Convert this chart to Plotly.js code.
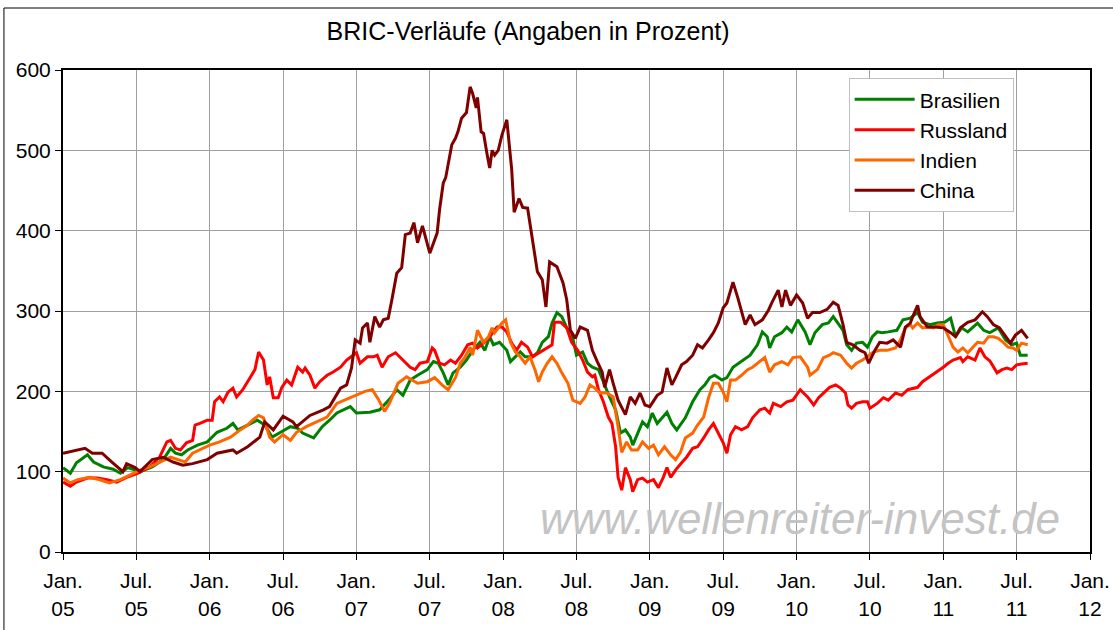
<!DOCTYPE html>
<html>
<head>
<meta charset="utf-8">
<script src="https://cdn.plot.ly/plotly-3.0.1.min.js"></script>
<style>
  html, body { margin: 0; padding: 0; background: #fff; }
  #chart { width: 1113px; height: 630px; }
</style>
</head>
<body>
<div id="chart"></div>
<script>
// x values: months since January 2005
const tickMonths = [0, 6, 12, 18, 24, 30, 36, 42, 48, 54, 60, 66, 72, 78, 84];
const tickLabels = ["Jan.<br>05", "Jul.<br>05", "Jan.<br>06", "Jul.<br>06", "Jan.<br>07", "Jul.<br>07", "Jan.<br>08", "Jul.<br>08", "Jan.<br>09", "Jul.<br>09", "Jan.<br>10", "Jul.<br>10", "Jan.<br>11", "Jul.<br>11", "Jan.<br>12"];

const seriesNames = ["Brasilien", "Russland", "Indien", "China"];
const seriesColors = ["#008000", "#FF0000", "#FF6600", "#800000"];

const brasilienX = [0,0.6,1.1,2.0,2.5,3.3,4.1,4.7,5.3,6.3,7.3,8.2,8.8,9.2,9.7,10.2,11.0,11.8,12.6,13.4,13.9,14.3,15.1,15.9,16.5,17.1,17.8,18.6,19.2,19.6,20.5,21.2,21.8,22.4,23.5,24.0,25.1,25.9,26.7,27.3,27.8,28.4,29.0,29.8,30.3,30.7,31.1,31.5,31.9,32.5,33.0,33.5,34.1,34.5,34.9,35.2,35.7,36.3,36.6,37.0,37.4,37.8,38.4,38.8,39.2,39.7,40.0,40.4,40.8,41.2,41.6,42.0,42.5,42.9,43.3,43.8,44.2,44.7,45.2,45.6,46.0,46.4,46.6,47.0,47.4,47.8,48.2,48.6,49.0,49.4,49.8,50.2,50.9,51.5,52.1,52.5,52.9,53.3,53.9,54.3,54.8,55.5,56.2,56.8,57.2,57.6,57.8,58.2,58.8,59.2,59.6,60.1,60.7,61.1,61.5,62.1,62.6,63.0,63.4,63.8,64.1,64.5,64.9,65.4,65.8,66.2,66.6,67.0,67.5,68.2,68.7,69.3,69.9,70.3,70.9,71.5,72.1,72.6,73.0,73.5,74.0,74.8,75.3,75.8,76.5,77.1,77.6,78.0,78.3,78.9];
const brasilienY = [105,98,111,121,112,106,103,98,105,100,106,115,129,123,121,127,133,137,149,154,160,152,158,164,158,143,149,156,154,148,142,156,164,173,181,173,174,177,190,202,195,214,220,227,237,235,223,208,223,230,239,251,261,251,268,258,261,251,237,243,249,243,243,248,261,268,285,298,293,279,273,245,249,235,230,227,212,193,177,148,152,143,133,148,162,156,173,160,167,174,160,152,167,187,202,208,217,220,214,217,230,237,245,258,274,268,254,268,273,280,274,289,274,258,273,283,285,293,285,276,258,251,260,261,255,268,274,273,274,276,289,291,298,286,283,285,286,291,268,279,274,285,276,273,279,264,258,260,245,245];

const russlandX = [0,0.6,1.1,2.0,2.8,3.6,4.4,5.2,6.1,7.1,7.9,8.5,8.8,9.2,9.6,10.1,10.6,10.8,11.2,11.8,12.2,12.4,12.8,13.1,13.5,13.9,14.2,14.7,15.3,15.7,16.0,16.4,16.7,16.9,17.2,17.6,17.9,18.3,18.7,19.0,19.2,19.6,19.8,20.2,20.6,21.0,21.6,22.1,22.7,23.2,23.6,24.0,24.3,24.9,25.4,25.7,26.1,26.6,27.2,27.6,28.0,28.4,28.8,29.2,29.8,30.2,30.4,30.8,31.2,31.7,32.1,32.6,33.1,33.5,33.9,34.4,34.9,35.5,35.9,36.3,36.7,37.1,37.5,38.0,38.4,39.0,39.6,40.0,40.2,40.7,41.2,41.6,42.1,42.5,42.9,43.3,43.5,43.8,44.2,44.6,44.9,45.2,45.4,45.7,46.0,46.4,46.6,47.0,47.4,47.8,48.3,48.7,49.1,49.4,49.7,50.1,50.6,51.0,51.5,51.9,52.4,52.8,53.2,53.6,54.0,54.3,54.6,55.0,55.5,56.0,56.4,57.0,57.4,57.8,58.1,58.7,59.2,59.7,60.3,60.9,61.4,61.8,62.2,62.7,63.2,63.6,64.0,64.2,64.5,64.9,65.4,65.8,66.0,66.6,67.1,67.5,68.1,68.6,69.1,69.9,70.3,70.9,71.5,72.0,72.4,72.8,73.4,73.6,74.0,74.6,75.0,75.4,75.8,76.4,76.8,77.2,77.6,78.0,78.4,78.9];
const russlandY = [87,82,87,92,92,90,87,93,98,106,118,137,139,129,127,136,139,158,160,164,164,187,193,187,199,204,193,202,217,227,249,239,208,218,192,192,205,214,208,220,230,224,229,220,204,212,220,224,230,239,243,248,235,243,243,245,230,243,248,242,235,230,227,235,237,254,251,235,233,239,235,245,258,260,254,260,268,280,280,274,260,251,261,255,243,249,254,258,286,286,279,261,251,239,224,218,220,202,187,168,160,131,93,77,105,90,75,90,92,87,90,80,93,105,93,102,111,118,129,131,142,152,160,148,136,123,146,156,152,156,167,177,179,173,185,181,187,189,202,193,183,192,198,205,208,204,198,183,179,185,187,187,179,185,192,189,198,195,202,205,212,218,224,230,235,239,242,237,243,239,254,243,238,223,227,229,227,233,234,235];

const indienX = [0,0.6,1.2,2.2,3.0,3.8,4.7,5.5,6.3,7.1,7.9,8.8,9.4,10.0,10.6,11.2,12.0,12.8,13.7,14.5,15.1,15.5,16.0,16.4,16.9,17.3,18.0,18.6,19.1,19.9,20.8,21.6,22.4,23.2,24.0,24.7,25.3,25.8,26.3,26.7,27.4,28.1,29.0,29.8,30.4,31.0,31.5,32.1,32.5,32.9,33.3,33.5,33.9,34.4,34.8,35.1,35.3,35.6,35.9,36.2,36.6,37.0,37.4,37.8,38.2,38.6,38.9,39.2,39.6,40.0,40.4,40.8,41.3,41.7,42.3,42.7,43.1,43.5,43.9,44.5,45.0,45.4,45.7,46.1,46.5,47.0,47.4,47.9,48.3,48.7,49.2,49.7,50.1,50.5,50.9,51.5,51.9,52.4,52.8,53.2,53.6,54.0,54.3,54.6,55.0,55.5,56.0,56.4,57.0,57.4,57.8,58.2,58.8,59.3,59.7,60.3,60.9,61.1,61.7,62.2,62.7,63.0,63.6,64.1,64.5,64.9,65.4,65.8,66.3,66.8,67.4,68.1,68.5,68.9,69.3,69.5,69.9,70.3,70.8,71.2,71.6,72.0,72.4,72.8,73.2,73.6,74.0,74.4,74.8,75.3,75.7,76.1,76.5,76.9,77.3,77.7,78.0,78.4,78.9];
const indienY = [92,86,90,93,90,86,90,96,102,106,112,118,115,112,123,127,133,137,143,152,158,164,170,167,143,137,146,139,149,156,162,168,185,190,195,200,202,190,175,185,210,218,210,212,217,208,202,217,235,243,255,245,276,261,268,279,273,279,285,289,261,249,243,235,243,227,212,224,235,243,235,223,210,189,185,193,208,204,198,198,193,156,124,137,127,127,137,129,133,121,131,121,115,124,142,148,158,168,192,210,210,199,187,214,214,220,227,230,237,242,224,233,237,233,242,243,230,220,227,242,245,248,245,235,229,235,239,243,249,251,251,254,264,279,283,279,285,279,280,279,283,283,270,255,249,254,248,254,261,260,268,268,266,261,255,254,251,260,258];

const chinaX = [0,1.8,2.4,3.2,4.0,4.9,5.2,5.9,6.3,7.3,8.2,9.0,9.8,10.6,11.8,12.6,13.9,14.2,15.1,16.1,16.5,17.2,18.0,18.8,19.1,20.2,21.3,21.8,22.7,23.2,23.6,23.9,24.3,24.5,24.9,25.1,25.5,25.9,26.2,26.6,26.9,27.3,27.7,28.0,28.4,28.7,29.0,29.4,30.0,30.6,30.8,31.1,31.3,31.8,32.1,32.3,32.6,33.0,33.3,33.5,33.8,33.9,34.2,34.4,34.7,34.9,35.1,35.3,35.6,35.9,36.3,36.7,36.9,37.3,37.6,38.0,38.8,39.2,39.5,39.8,40.4,40.9,41.2,41.5,41.9,42.3,42.9,43.3,43.7,44.1,44.3,44.7,45.0,45.4,46.0,46.4,46.8,47.2,47.6,48.0,48.6,49.0,49.4,49.8,50.1,50.6,51.0,51.5,51.9,52.3,52.8,53.2,53.6,54.0,54.3,54.8,55.2,55.8,56.2,56.6,57.2,57.7,58.0,58.5,58.8,59.1,59.5,60.0,60.5,60.9,61.3,61.9,62.5,63.0,63.4,63.8,64.1,64.6,65.2,65.6,65.9,66.4,66.8,67.4,67.9,68.5,68.9,69.3,69.5,69.9,70.1,70.7,71.3,72.0,72.6,73.0,73.4,74.0,74.6,75.2,75.6,76.1,76.6,77.1,77.5,77.9,78.4,78.9];
const chinaY = [123,129,123,123,112,100,110,105,100,115,118,112,108,110,115,123,127,123,131,143,162,152,169,162,156,170,177,181,204,208,229,264,260,279,285,261,293,280,289,291,314,347,354,395,397,410,385,406,372,397,426,459,466,507,515,523,540,547,579,571,553,566,523,521,494,478,500,494,500,519,538,476,423,440,429,428,349,339,305,361,355,335,314,276,266,280,276,251,237,224,205,227,210,189,171,193,185,198,183,181,195,199,229,208,217,233,237,245,258,254,264,273,285,304,310,336,316,283,295,283,289,301,311,326,305,326,307,320,310,291,298,298,302,311,307,283,261,258,251,248,235,251,261,260,264,255,280,285,293,307,293,280,280,279,273,268,279,286,289,299,293,283,279,268,260,270,276,266];

const xs = [brasilienX, russlandX, indienX, chinaX];
const ys = [brasilienY, russlandY, indienY, chinaY];

const FONT = "Liberation Sans, Arial, sans-serif";

const traces = seriesNames.map((name, i) => ({
  type: "scatter",
  mode: "lines",
  name: name,
  x: xs[i],
  y: ys[i],
  line: { color: seriesColors[i], width: 3 },
  hoverinfo: "skip"
}));

const layout = {
  width: 1113,
  height: 630,
  margin: { l: 63, r: 23, t: 70, b: 78 },
  paper_bgcolor: "#ffffff",
  plot_bgcolor: "#ffffff",
  font: { family: FONT, size: 21, color: "#000000" },
  title: {
    text: "BRIC-Verläufe (Angaben in Prozent)",
    font: { family: FONT, size: 25, color: "#000000" },
    x: 0.4745,
    xanchor: "center",
    y: 0.951,
    yanchor: "middle"
  },
  showlegend: true,
  legend: {
    x: 0.765,
    y: 0.983,
    xanchor: "left",
    yanchor: "top",
    bgcolor: "#ffffff",
    bordercolor: "#c0c0c0",
    borderwidth: 1,
    font: { family: FONT, size: 21, color: "#000000" },
    itemwidth: 60
  },
  xaxis: {
    range: [0, 84],
    tickmode: "array",
    tickvals: tickMonths,
    ticktext: tickLabels,
    showgrid: true,
    gridcolor: "#a0a0a0",
    gridwidth: 1,
    ticks: "outside",
    ticklen: 6,
    tickcolor: "#000000",
    ticklabelstandoff: 3,
    showline: true,
    linecolor: "#000000",
    linewidth: 2,
    mirror: true,
    zeroline: false,
    tickfont: { family: FONT, size: 21, color: "#000000" }
  },
  yaxis: {
    range: [0, 600],
    tickmode: "linear",
    tick0: 0,
    dtick: 100,
    showgrid: true,
    gridcolor: "#a0a0a0",
    gridwidth: 1,
    ticks: "outside",
    ticklen: 6,
    tickcolor: "#000000",
    showline: true,
    linecolor: "#000000",
    linewidth: 2,
    mirror: true,
    zeroline: false,
    tickfont: { family: FONT, size: 21, color: "#000000" }
  },
  annotations: [
    {
      text: "www.wellenreiter-invest.de",
      xref: "paper", yref: "paper",
      x: 0.7176, y: 0.0705,
      xanchor: "center", yanchor: "middle",
      showarrow: false,
      font: { family: FONT, size: 44, color: "#c4c4c4", style: "italic" }
    }
  ],
  shapes: [
    {
      type: "rect", xref: "paper", yref: "paper",
      x0: -0.0575, x1: 1.1, y0: -0.3, y1: 1.1286,
      line: { color: "#000000", width: 1 },
      fillcolor: "rgba(0,0,0,0)",
      layer: "below"
    }
  ]
};

Plotly.newPlot("chart", traces, layout, { displayModeBar: false, staticPlot: true });
</script>
</body>
</html>
